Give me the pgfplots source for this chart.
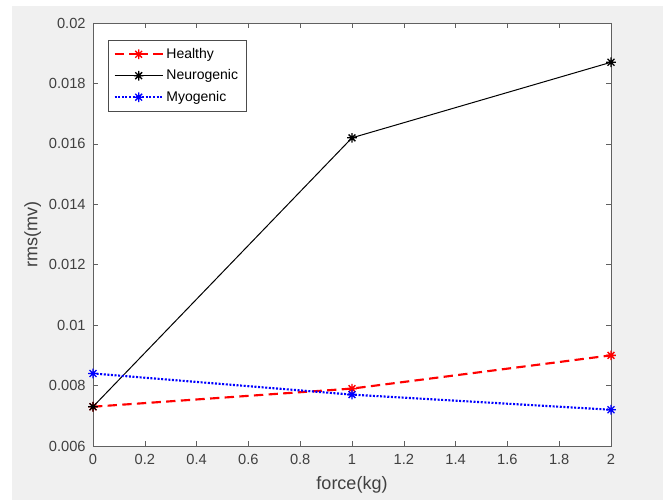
\documentclass[border=0pt]{standalone}
\usepackage{fontspec}
\setmainfont{Liberation Sans}
\usepackage{pgfplots}
\pgfplotsset{compat=1.18}
\definecolor{figbg}{HTML}{F0F0F0}
\definecolor{axgray}{HTML}{606060}
\pgfdeclareplotmark{mstar}{%
  \pgfpathmoveto{\pgfqpoint{-\pgfplotmarksize}{0pt}}\pgfpathlineto{\pgfqpoint{\pgfplotmarksize}{0pt}}%
  \pgfpathmoveto{\pgfqpoint{0pt}{-\pgfplotmarksize}}\pgfpathlineto{\pgfqpoint{0pt}{\pgfplotmarksize}}%
  \pgfpathmoveto{\pgfqpoint{-0.707\pgfplotmarksize}{-0.707\pgfplotmarksize}}\pgfpathlineto{\pgfqpoint{0.707\pgfplotmarksize}{0.707\pgfplotmarksize}}%
  \pgfpathmoveto{\pgfqpoint{-0.707\pgfplotmarksize}{0.707\pgfplotmarksize}}\pgfpathlineto{\pgfqpoint{0.707\pgfplotmarksize}{-0.707\pgfplotmarksize}}%
  \pgfusepathqstroke}
\begin{document}
\begin{tikzpicture}
\fill[white] (0,0) rectangle (501pt,375pt);
\fill[figbg] (9pt,0) rectangle (497.25pt,370.5pt);
\useasboundingbox (0,0) rectangle (501pt,375pt);
\begin{axis}[
  at={(69.75pt,40.5pt)}, anchor=south west,
  scale only axis, width=388.5pt, height=317.25pt,
  xmin=0, xmax=2, ymin=0.006, ymax=0.02,
  xtick={0,0.2,...,2.01},
  ytick={0.006,0.008,0.010,0.012,0.014,0.016,0.018,0.020},
  scaled y ticks=false, scaled x ticks=false,
  yticklabel style={/pgf/number format/fixed, /pgf/number format/precision=3, xshift=-2pt},
  xticklabel style={/pgf/number format/fixed, /pgf/number format/precision=1, yshift=-3pt},
  /pgf/number format/assume math mode=true,
  tick align=inside, tick pos=both,
  major tick length=4pt,
  axis line style={axgray},
  every tick/.style={axgray},
  ticklabel style={font=\fontsize{11}{13}\selectfont, text=black!75},
  axis background/.style={fill=white},
  xlabel={force(kg)}, ylabel={rms(mv)},
  label style={font=\fontsize{13.5}{15}\selectfont, text=black!75},
  xlabel style={yshift=-2pt},
  ylabel style={yshift=-1pt},
  legend style={at={(0.029,0.96)}, anchor=north west, draw=black!70, font=\fontsize{10.5}{12}\selectfont, row sep=3pt, inner xsep=4pt, inner ysep=4pt},
  legend cell align=left,
  legend image code/.code={\draw[#1] (0pt,0pt) -- (18pt,0pt) plot coordinates {(18pt,0pt)} -- (36pt,0pt);},
]
\addplot[red, line width=1.6pt, dash pattern=on 7pt off 4pt, mark=mstar, mark size=3.6pt, mark options={solid, line width=1pt}] coordinates {(0,0.0073) (1,0.0079) (2,0.0090)};
\addlegendentry{Healthy}
\addplot[black, line width=0.75pt, mark=mstar, mark size=3.6pt, mark options={solid, line width=1pt}] coordinates {(0,0.0073) (1,0.0162) (2,0.0187)};
\addlegendentry{Neurogenic}
\addplot[blue, line width=1.6pt, dash pattern=on 1.5pt off 1.2pt, mark=mstar, mark size=3.6pt, mark options={solid, line width=1pt}] coordinates {(0,0.0084) (1,0.0077) (2,0.0072)};
\addlegendentry{Myogenic}
\end{axis}
\end{tikzpicture}
\end{document}
